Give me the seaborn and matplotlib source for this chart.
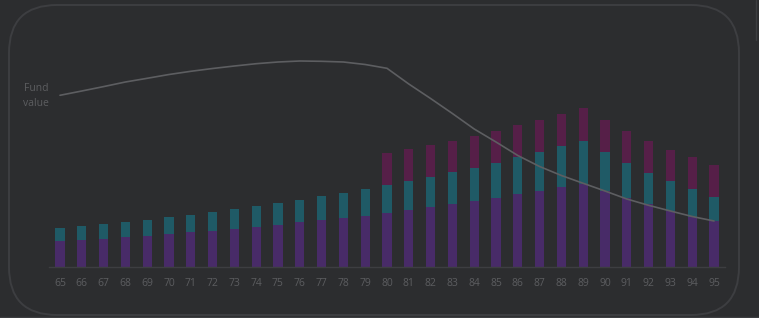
import matplotlib
matplotlib.use("Agg")
import matplotlib.pyplot as plt
import seaborn as sns
import pandas as pd
from matplotlib.patches import FancyBboxPatch

# ---- data ----
ages = list(range(65, 96))
income_a = [25.6, 27.0, 28.0, 30.0, 31.3, 33.0, 35.0, 36.3, 38.3, 40.3, 42.0, 44.6, 47.0, 49.0, 51.3,
            54.3, 57.0, 60.0, 63.0, 66.0, 69.3, 72.7, 76.3, 79.7, 83.4, 75.7, 68.7, 62.7, 56.0, 50.4, 45.7]
income_b = [13.4, 14.0, 15.3, 15.3, 16.0, 16.6, 17.3, 18.7, 19.7, 20.7, 22.0, 22.4, 23.6, 25.3, 26.7,
            27.5, 29.0, 30.3, 31.7, 33.3, 35.0, 37.3, 39.0, 41.0, 43.0, 39.0, 35.3, 31.7, 29.7, 27.3, 24.7]
income_c = [0, 0, 0, 0, 0, 0, 0, 0, 0, 0, 0, 0, 0, 0, 0,
            32.2, 32.0, 31.7, 31.6, 31.7, 31.7, 31.7, 32.0, 32.0, 32.3, 32.3, 32.0, 32.0, 31.7, 32.0, 32.0]
fund_value = [171.7, 176.0, 180.4, 185.0, 188.7, 192.5, 195.7, 198.5, 201.0, 203.3, 205.0, 206.0, 205.7,
              205.0, 202.5, 198.7, 183.0, 168.5, 153.5, 138.0, 125.0, 111.5, 100.5, 91.5, 83.7, 76.0,
              68.0, 61.7, 56.0, 50.5, 46.0]
line_label = "Fund\nvalue"

df = pd.DataFrame({"age": ages, "a": income_a, "b": income_b, "c": income_c, "fund": fund_value})
df["ab"] = df["a"] + df["b"]
df["abc"] = df["ab"] + df["c"]

BG = "#2c2d2f"
C_A = "#482b68"
C_B = "#1f5a66"
C_C = "#561f48"
GRID = "#3d3e41"
TXT = "#5c5d60"
LINE = "#5d5e61"

sns.set_theme(style="dark")
plt.rcParams["font.family"] = ["Open Sans", "DejaVu Sans"]

W, H = 759, 318
fig = plt.figure(figsize=(W / 100, H / 100), dpi=100)
fig.patch.set_facecolor(BG)

# background decoration axes (pixel coords)
bg = fig.add_axes([0, 0, 1, 1])
bg.set_xlim(0, W)
bg.set_ylim(H, 0)
bg.axis("off")
bg.set_facecolor(BG)
card = FancyBboxPatch((9 + 48, 5 + 48), 730 - 96, 310 - 96,
                      boxstyle="round,pad=48", linewidth=1.4,
                      edgecolor=GRID, facecolor="none")
bg.add_patch(card)
bg.plot([0, W], [316.5, 316.5], color=GRID, lw=1.0)
bg.plot([756, 756], [0, 40], color=GRID, lw=1.0)

# main axes: baseline at pixel 267, bar centres 60..714
left_px, right_px = 60 - 10.9, 714 + 10.9
base_px, top_px = 267, 40
ax = fig.add_axes([left_px / W, (H - base_px) / H, (right_px - left_px) / W, (base_px - top_px) / H])
ax.set_facecolor("none")

sns.barplot(data=df, x="age", y="abc", native_scale=True, color=C_C, width=0.43,
            saturation=1, ax=ax, linewidth=0)
sns.barplot(data=df, x="age", y="ab", native_scale=True, color=C_B, width=0.43,
            saturation=1, ax=ax, linewidth=0)
sns.barplot(data=df, x="age", y="a", native_scale=True, color=C_A, width=0.43,
            saturation=1, ax=ax, linewidth=0)
sns.lineplot(data=df, x="age", y="fund", color=LINE, linewidth=1.2, ax=ax)

ax.set_xlim(64.5, 95.5)
ax.set_ylim(0, base_px - top_px)
ax.set_xticks(ages)
ax.set_xticklabels([str(a) for a in ages], color=TXT, fontsize=7.5)
ax.tick_params(axis="x", length=0, pad=8)
ax.set_yticks([])
ax.set_xlabel("")
ax.set_ylabel("")
ax.grid(False)
for s in ["top", "right", "left"]:
    ax.spines[s].set_visible(False)
ax.spines["bottom"].set_color(GRID)
ax.spines["bottom"].set_linewidth(1.0)

bg.text(36, 96, line_label, color=TXT, fontsize=7.5, ha="center", va="center",
        linespacing=1.5)

fig.savefig("out.png", dpi=100, facecolor=BG)
